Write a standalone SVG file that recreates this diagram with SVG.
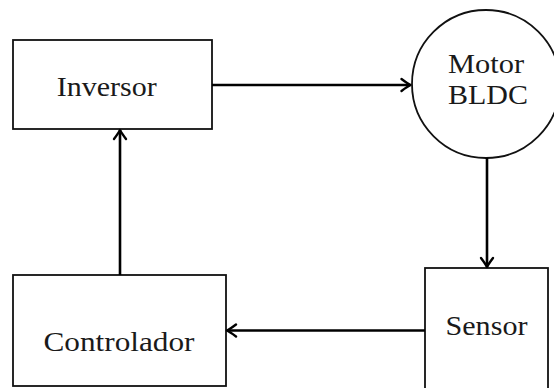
<svg xmlns="http://www.w3.org/2000/svg" width="554" height="388" viewBox="0 0 554 388">
<style>
.box{fill:#fff;stroke:#111;stroke-width:1.8}
.lbl{font-family:"Liberation Serif","DejaVu Serif",serif;font-size:28px;fill:#1a1a1a;text-anchor:middle}
.conn{fill:none;stroke:#000;stroke-width:2.6}
.head{fill:none;stroke:#000;stroke-width:2.4;stroke-linecap:round;stroke-linejoin:round}
</style>
<defs>
<marker id="arr" markerUnits="userSpaceOnUse" viewBox="-12 -8 14 16" refX="0" refY="0" markerWidth="14" markerHeight="16" orient="auto">
<path class="head" d="M -9 -6 Q -3 -1.5 0 0 Q -3 1.5 -9 6"/>
</marker>
</defs>
<rect width="554" height="388" fill="#fff"/>
<g id="inversor">
<rect class="box" x="13" y="40" width="199" height="89"/>
<text class="lbl" x="106.7" y="95.7" textLength="100" lengthAdjust="spacingAndGlyphs">Inversor</text>
</g>
<g id="motor">
<circle class="box" cx="486" cy="84" r="74"/>
<text class="lbl" x="486" y="73" textLength="76" lengthAdjust="spacingAndGlyphs">Motor</text>
<text class="lbl" x="488" y="104" textLength="80" lengthAdjust="spacingAndGlyphs">BLDC</text>
</g>
<g id="sensor">
<rect class="box" x="425" y="268" width="123" height="130"/>
<text class="lbl" x="486.5" y="335" textLength="82" lengthAdjust="spacingAndGlyphs">Sensor</text>
</g>
<g id="controlador">
<rect class="box" x="13" y="275" width="213" height="111"/>
<text class="lbl" x="119" y="350.7" textLength="151" lengthAdjust="spacingAndGlyphs">Controlador</text>
</g>
<g id="connectors">
<line class="conn" x1="212" y1="85" x2="410.5" y2="85" marker-end="url(#arr)"/>
<line class="conn" x1="487" y1="158" x2="487" y2="267" marker-end="url(#arr)"/>
<line class="conn" x1="425" y1="330.5" x2="227" y2="330.5" marker-end="url(#arr)"/>
<line class="conn" x1="120" y1="275" x2="120" y2="130" marker-end="url(#arr)"/>
</g>
</svg>
